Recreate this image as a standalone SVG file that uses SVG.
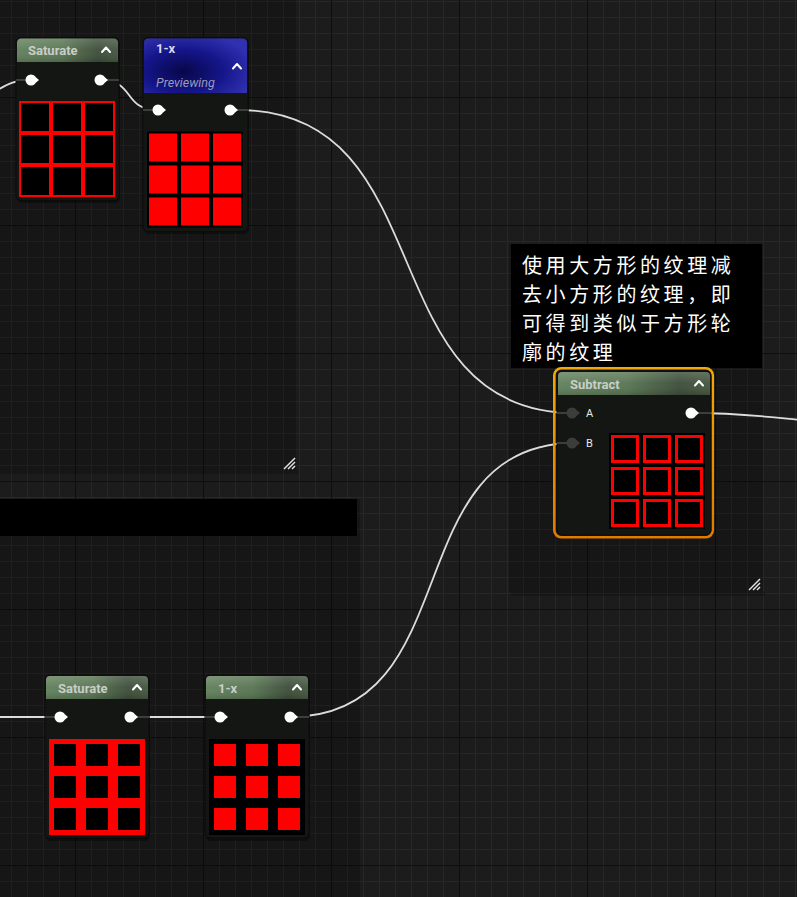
<svg xmlns="http://www.w3.org/2000/svg" xmlns:xlink="http://www.w3.org/1999/xlink" width="797" height="897" viewBox="0 0 797 897">
  <defs>
    <style>
      .title { font-family: Roboto, "Liberation Sans", sans-serif; font-weight: bold; font-size: 13px; fill: #c9cec8; }
      .title1x { font-family: Roboto, "Liberation Sans", sans-serif; font-weight: bold; font-size: 13px; fill: #d8d8e8; }
      .prev { font-family: Roboto, "Liberation Sans", sans-serif; font-style: italic; font-size: 12.5px; fill: #9a9ab8; }
      .pinlabel { font-family: Roboto, "Liberation Sans", sans-serif; font-size: 11px; fill: #e8e8e8; }
      .comment { font-family: "Noto Sans CJK SC", "Noto Sans", sans-serif; font-size: 20px; letter-spacing: 3.6px; fill: #ffffff; }
      .body { fill: #141614; stroke: #0b0b0b; stroke-width: 1; }
      .chev { fill: none; stroke: #ffffff; stroke-width: 2; stroke-linecap: round; stroke-linejoin: round; }
      .wire { fill: none; stroke: #dcdcdc; stroke-width: 1.8; }
      .stub { stroke: #5a5a5a; stroke-width: 1.2; }
      .panel { fill: #000000; fill-opacity: 0.2; }
      .hatch { stroke: #e6e6e6; stroke-width: 1.4; }
      .red { fill: #ff0000; }
      .blk { fill: #000000; }
      .oq { fill: #000000; stroke: #ff0000; stroke-width: 3; }
    </style>
    <pattern id="grid" patternUnits="userSpaceOnUse" x="75" y="97" width="128" height="128">
      <rect width="128" height="128" fill="#1c1c1c"/>
      <path d="M16.5 0V128M32.5 0V128M48.5 0V128M64.5 0V128M80.5 0V128M96.5 0V128M112.5 0V128M0 16.5H128M0 32.5H128M0 48.5H128M0 64.5H128M0 80.5H128M0 96.5H128M0 112.5H128" stroke="#272727" stroke-width="1"/>
      <path d="M0.5 0V128M0 0.5H128" stroke="#0f0f0f" stroke-width="1.2"/>
    </pattern>
    <linearGradient id="green" x1="0" y1="0" x2="1" y2="0">
      <stop offset="0" stop-color="#62805c"/>
      <stop offset="0.45" stop-color="#587552"/>
      <stop offset="0.8" stop-color="#3c4d39"/>
      <stop offset="1" stop-color="#44573f"/>
    </linearGradient>
    <linearGradient id="gloss" x1="0" y1="0" x2="0" y2="1">
      <stop offset="0" stop-color="#ffffff" stop-opacity="0.18"/>
      <stop offset="0.5" stop-color="#ffffff" stop-opacity="0.04"/>
      <stop offset="1" stop-color="#000000" stop-opacity="0.12"/>
    </linearGradient>
    <radialGradient id="blue" cx="0.38" cy="0.6" r="0.7">
      <stop offset="0" stop-color="#07074a"/>
      <stop offset="0.55" stop-color="#15158a"/>
      <stop offset="1" stop-color="#3030b0"/>
    </radialGradient>
    <linearGradient id="orange" x1="0" y1="0" x2="0" y2="1">
      <stop offset="0" stop-color="#f5a800"/>
      <stop offset="1" stop-color="#e07a00"/>
    </linearGradient>
    <g id="pin">
      <circle cx="0" cy="0" r="5.5" fill="#ffffff"/>
      <polygon points="4.5,-3 8,0 4.5,3" fill="#ffffff"/>
    </g>
    <g id="pinoff">
      <circle cx="0" cy="0" r="5.5" fill="#3c3c3c"/>
      <polygon points="4.5,-3 8,0 4.5,3" fill="#3c3c3c"/>
    </g>
  </defs>

  <!-- background grid -->
  <rect x="0" y="0" width="797" height="897" fill="url(#grid)"/>

  <!-- comment panels -->
  <g id="comment-top-left">
    <rect x="0" y="470" width="298" height="4" fill="#000" fill-opacity="0.18"/>
    <rect class="panel" x="0" y="0" width="296" height="470"/>
    <line class="hatch" x1="284" y1="469" x2="295" y2="458"/>
    <line class="hatch" x1="288" y1="469" x2="295" y2="462"/>
    <line class="hatch" x1="292" y1="469" x2="295" y2="466"/>
  </g>
  <g id="comment-bottom-left">
    <rect class="panel" x="0" y="499" width="360" height="398"/>
    <rect x="0" y="499" width="357" height="37" fill="#000000"/>
  </g>
  <g id="comment-right">
    <rect x="511" y="592" width="254" height="4" fill="#000" fill-opacity="0.18"/>
    <rect class="panel" x="509" y="244" width="254" height="348"/>
    <rect x="511" y="244" width="251" height="124" fill="#000000"/>
    <text class="comment" x="522" y="273">使用大方形的纹理减</text>
    <text class="comment" x="522" y="302">去小方形的纹理，即</text>
    <text class="comment" x="522" y="331">可得到类似于方形轮</text>
    <text class="comment" x="522" y="360">廓的纹理</text>
    <line class="hatch" x1="749" y1="590" x2="760" y2="579"/>
    <line class="hatch" x1="753" y1="590" x2="760" y2="583"/>
    <line class="hatch" x1="757" y1="590" x2="760" y2="587"/>
  </g>

  <!-- connectors -->
  <g id="connectors">
    <path class="wire" d="M-30,97 C0,97 0,80 31,80"/>
    <path class="wire" d="M100,80 C136,80 122,110 158,110"/>
    <path class="wire" d="M238,110 C446,110 367,413 575,413"/>
    <path class="wire" d="M692,413 C740,413 770,417 800,420"/>
    <path class="wire" d="M0,717 L60,717"/>
    <path class="wire" d="M130,717 L220,717"/>
    <path class="wire" d="M290,717 C470,717 395,443 575,443"/>
  </g>

  <!-- top Saturate -->
  <g id="node-saturate-top">
    <rect x="17" y="40" width="103" height="163" rx="5" fill="#000" fill-opacity="0.35"/>
    <rect class="body" x="16" y="37.5" width="103" height="163" rx="5"/>
    <path d="M17,62 V43 Q17,38.5 21.5,38.5 H113.5 Q118,38.5 118,43 V62 Z" fill="url(#green)"/>
    <path d="M17,62 V43 Q17,38.5 21.5,38.5 H113.5 Q118,38.5 118,43 V62 Z" fill="url(#gloss)"/>
    <text class="title" x="28" y="55">Saturate</text>
    <polyline class="chev" points="102,52 106,47.5 110,52"/>
    <line class="stub" x1="16" y1="80" x2="26" y2="80"/>
    <line class="stub" x1="104" y1="80" x2="119" y2="80"/>
    <use xlink:href="#pin" x="31" y="80"/>
    <use xlink:href="#pin" x="100" y="80"/>
    <rect class="red" x="19" y="101" width="96" height="96"/>
    <rect class="blk" x="21" y="103" width="28" height="28"/>
    <rect class="blk" x="53" y="103" width="28" height="28"/>
    <rect class="blk" x="85" y="103" width="28" height="28"/>
    <rect class="blk" x="21" y="135" width="28" height="28"/>
    <rect class="blk" x="53" y="135" width="28" height="28"/>
    <rect class="blk" x="85" y="135" width="28" height="28"/>
    <rect class="blk" x="21" y="167" width="28" height="28"/>
    <rect class="blk" x="53" y="167" width="28" height="28"/>
    <rect class="blk" x="85" y="167" width="28" height="28"/>
  </g>

  <!-- top 1-x (previewing) -->
  <g id="node-oneminus-top">
    <rect x="144" y="40" width="105" height="194" rx="5" fill="#000" fill-opacity="0.35"/>
    <rect class="body" x="143" y="37.5" width="105" height="194" rx="5"/>
    <path d="M144,93 V43 Q144,38.5 148.5,38.5 H242.5 Q247,38.5 247,43 V93 Z" fill="url(#blue)"/>
    <text class="title1x" x="156" y="53">1-x</text>
    <polyline class="chev" points="233,68.5 237,64 241,68.5"/>
    <text class="prev" x="156" y="87">Previewing</text>
    <line class="stub" x1="143" y1="110" x2="153" y2="110"/>
    <line class="stub" x1="234" y1="110" x2="248" y2="110"/>
    <use xlink:href="#pin" x="158" y="110"/>
    <use xlink:href="#pin" x="230" y="110"/>
    <rect class="blk" x="147" y="131.5" width="96" height="96"/>
    <rect class="red" x="149" y="133.5" width="28" height="28"/>
    <rect class="red" x="181" y="133.5" width="28" height="28"/>
    <rect class="red" x="213" y="133.5" width="28" height="28"/>
    <rect class="red" x="149" y="165.5" width="28" height="28"/>
    <rect class="red" x="181" y="165.5" width="28" height="28"/>
    <rect class="red" x="213" y="165.5" width="28" height="28"/>
    <rect class="red" x="149" y="197.5" width="28" height="28"/>
    <rect class="red" x="181" y="197.5" width="28" height="28"/>
    <rect class="red" x="213" y="197.5" width="28" height="28"/>
  </g>

  <!-- Subtract (selected) -->
  <g id="node-subtract">
    <rect x="554.3" y="368.3" width="158.5" height="169" rx="7" fill="none" stroke="url(#orange)" stroke-width="2.6"/>
    <rect class="body" x="557" y="371" width="154" height="164" rx="5" fill="#141614"/>
    <path d="M558,395 V376 Q558,372 562,372 H706 Q710,372 710,376 V395 Z" fill="url(#green)"/>
    <path d="M558,395 V376 Q558,372 562,372 H706 Q710,372 710,376 V395 Z" fill="url(#gloss)"/>
    <text class="title" x="570" y="389">Subtract</text>
    <polyline class="chev" points="695,385.5 699,381 703,385.5"/>
    <line class="stub" x1="557" y1="413" x2="567" y2="413"/>
    <line class="stub" x1="557" y1="443" x2="567" y2="443"/>
    <line class="stub" x1="695" y1="413" x2="711" y2="413"/>
    <use xlink:href="#pinoff" x="572" y="413"/>
    <use xlink:href="#pinoff" x="572" y="443"/>
    <text class="pinlabel" x="586" y="417">A</text>
    <text class="pinlabel" x="586" y="447">B</text>
    <use xlink:href="#pin" x="691" y="413"/>
    <rect class="blk" x="609" y="433" width="96" height="96"/>
    <rect class="oq" x="612.5" y="436.5" width="25" height="25"/>
    <rect class="oq" x="644.5" y="436.5" width="25" height="25"/>
    <rect class="oq" x="676.5" y="436.5" width="25" height="25"/>
    <rect class="oq" x="612.5" y="468.5" width="25" height="25"/>
    <rect class="oq" x="644.5" y="468.5" width="25" height="25"/>
    <rect class="oq" x="676.5" y="468.5" width="25" height="25"/>
    <rect class="oq" x="612.5" y="500.5" width="25" height="25"/>
    <rect class="oq" x="644.5" y="500.5" width="25" height="25"/>
    <rect class="oq" x="676.5" y="500.5" width="25" height="25"/>
  </g>

  <!-- bottom Saturate -->
  <g id="node-saturate-bottom">
    <rect x="46" y="677" width="104" height="164" rx="5" fill="#000" fill-opacity="0.35"/>
    <rect class="body" x="45" y="675" width="104" height="163" rx="5"/>
    <path d="M46,699 V680 Q46,676 50,676 H144 Q148,676 148,680 V699 Z" fill="url(#green)"/>
    <path d="M46,699 V680 Q46,676 50,676 H144 Q148,676 148,680 V699 Z" fill="url(#gloss)"/>
    <text class="title" x="58" y="693">Saturate</text>
    <polyline class="chev" points="133,689.5 137,685 141,689.5"/>
    <line class="stub" x1="45" y1="717" x2="55" y2="717"/>
    <line class="stub" x1="134" y1="717" x2="149" y2="717"/>
    <use xlink:href="#pin" x="60" y="717"/>
    <use xlink:href="#pin" x="130" y="717"/>
    <rect class="red" x="49" y="739" width="96" height="96"/>
    <rect class="blk" x="54" y="744" width="22" height="22"/>
    <rect class="blk" x="86" y="744" width="22" height="22"/>
    <rect class="blk" x="118" y="744" width="22" height="22"/>
    <rect class="blk" x="54" y="776" width="22" height="22"/>
    <rect class="blk" x="86" y="776" width="22" height="22"/>
    <rect class="blk" x="118" y="776" width="22" height="22"/>
    <rect class="blk" x="54" y="808" width="22" height="22"/>
    <rect class="blk" x="86" y="808" width="22" height="22"/>
    <rect class="blk" x="118" y="808" width="22" height="22"/>
  </g>

  <!-- bottom 1-x -->
  <g id="node-oneminus-bottom">
    <rect x="206" y="677" width="104" height="164" rx="5" fill="#000" fill-opacity="0.35"/>
    <rect class="body" x="205" y="675" width="104" height="163" rx="5"/>
    <path d="M206,699 V680 Q206,676 210,676 H304 Q308,676 308,680 V699 Z" fill="url(#green)"/>
    <path d="M206,699 V680 Q206,676 210,676 H304 Q308,676 308,680 V699 Z" fill="url(#gloss)"/>
    <text class="title" x="218" y="693">1-x</text>
    <polyline class="chev" points="293,689.5 297,685 301,689.5"/>
    <line class="stub" x1="205" y1="717" x2="215" y2="717"/>
    <line class="stub" x1="294" y1="717" x2="309" y2="717"/>
    <use xlink:href="#pin" x="220" y="717"/>
    <use xlink:href="#pin" x="290" y="717"/>
    <rect class="blk" x="209" y="739" width="96" height="96"/>
    <rect class="red" x="214" y="744" width="22" height="22"/>
    <rect class="red" x="246" y="744" width="22" height="22"/>
    <rect class="red" x="278" y="744" width="22" height="22"/>
    <rect class="red" x="214" y="776" width="22" height="22"/>
    <rect class="red" x="246" y="776" width="22" height="22"/>
    <rect class="red" x="278" y="776" width="22" height="22"/>
    <rect class="red" x="214" y="808" width="22" height="22"/>
    <rect class="red" x="246" y="808" width="22" height="22"/>
    <rect class="red" x="278" y="808" width="22" height="22"/>
  </g>
</svg>
